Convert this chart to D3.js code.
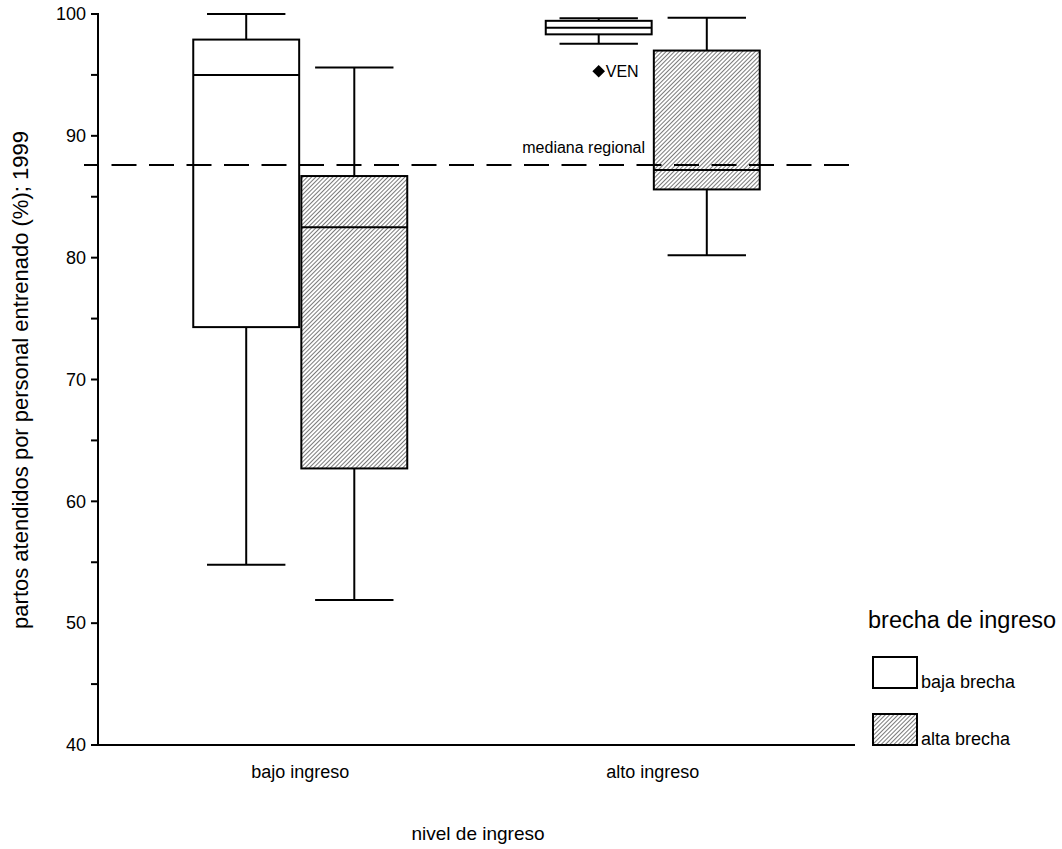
<!DOCTYPE html>
<html>
<head>
<meta charset="utf-8">
<script src="https://cdn.jsdelivr.net/npm/d3@7"></script>
<style>
  html, body { margin: 0; padding: 0; background: #fff; }
  svg { display: block; font-family: Arial, "Liberation Sans", sans-serif; }
</style>
</head>
<body>
<svg id="chart" width="1062" height="849"></svg>
<script>
// Income level groups and income-gap subgroups
const categories = ["bajo ingreso", "alto ingreso"];
const gaps = ["baja brecha", "alta brecha"];

// Box statistics per group: [whisker low, Q1, median, Q3, whisker high]
const bajoIngresoBaja = [54.8, 74.3, 95.0, 97.9, 100.0];
const bajoIngresoAlta = [51.9, 62.7, 82.5, 86.7, 95.6];
const altoIngresoBaja = [97.55, 98.33, 98.87, 99.44, 99.65];
const altoIngresoAlta = [80.2, 85.6, 87.2, 97.0, 99.7];

// Outlier
const outlierLabels = ["VEN"];
const outlierValues = [95.3];

// Regional median reference line
const regionalMedian = 87.6;

const yTicks = [40, 50, 60, 70, 80, 90, 100];
const yMinorTicks = [45, 55, 65, 75, 85, 95];

const boxes = [
  { cat: "bajo ingreso", gap: "baja brecha", s: bajoIngresoBaja },
  { cat: "bajo ingreso", gap: "alta brecha", s: bajoIngresoAlta },
  { cat: "alto ingreso", gap: "baja brecha", s: altoIngresoBaja },
  { cat: "alto ingreso", gap: "alta brecha", s: altoIngresoAlta }
];

const svg = d3.select("#chart");

const axisLeft = 98, axisRight = 855, axisBottom = 745;

const y = d3.scaleLinear().domain([40, 100]).range([axisBottom, 14]);
const x = d3.scaleBand().domain(categories).range([124, 829]);
const xg = d3.scaleBand().domain(gaps).range([-107, 107]).paddingInner(0.02);

// Hatch pattern for the high-gap boxes
const defs = svg.append("defs");
const pat = defs.append("pattern")
  .attr("id", "hatch")
  .attr("patternUnits", "userSpaceOnUse")
  .attr("width", 3).attr("height", 3)
  .attr("patternTransform", "rotate(45)");
pat.append("rect").attr("width", 3).attr("height", 3).attr("fill", "#fff");
pat.append("line")
  .attr("x1", 0.5).attr("y1", 0).attr("x2", 0.5).attr("y2", 3)
  .attr("stroke", "#7a7a7a").attr("stroke-width", 1);

const fillFor = g => g === "alta brecha" ? "url(#hatch)" : "#fff";

// Y axis
const yAxis = svg.append("g").attr("transform", `translate(${axisLeft},0)`);
yAxis.append("line")
  .attr("x1", 0).attr("x2", 0).attr("y1", y(100) - 1).attr("y2", axisBottom)
  .attr("stroke", "#000").attr("stroke-width", 2);
yAxis.selectAll(".major").data(yTicks.concat(yMinorTicks)).join("line")
  .attr("x1", -7).attr("x2", 0)
  .attr("y1", d => y(d)).attr("y2", d => y(d))
  .attr("stroke", "#000").attr("stroke-width", 2);
yAxis.selectAll("text").data(yTicks).join("text")
  .attr("x", -12).attr("y", d => y(d))
  .attr("dy", "0.35em")
  .attr("text-anchor", "end")
  .attr("font-size", 18)
  .text(d => d);

// X axis
svg.append("line")
  .attr("x1", axisLeft - 1).attr("x2", axisRight)
  .attr("y1", axisBottom).attr("y2", axisBottom)
  .attr("stroke", "#000").attr("stroke-width", 2);
svg.selectAll(".xlab").data(categories).join("text")
  .attr("x", d => x(d) + x.bandwidth() / 2)
  .attr("y", 778)
  .attr("text-anchor", "middle")
  .attr("font-size", 18)
  .text(d => d);

// Axis titles
svg.append("text")
  .attr("x", 478).attr("y", 840)
  .attr("text-anchor", "middle")
  .attr("font-size", 19)
  .text("nivel de ingreso");
svg.append("text")
  .attr("transform", `translate(28,380) rotate(-90)`)
  .attr("text-anchor", "middle")
  .attr("font-size", 22)
  .text("partos atendidos por personal entrenado (%); 1999");

// Boxes
const capRatio = 0.74;
const g = svg.append("g");
boxes.forEach(b => {
  const x0 = x(b.cat) + x.bandwidth() / 2 + xg(b.gap);
  const w = xg.bandwidth();
  const cx = x0 + w / 2;
  const cap = w * capRatio;
  const [lo, q1, med, q3, hi] = b.s;
  const grp = g.append("g");
  // whiskers
  grp.append("line").attr("x1", cx).attr("x2", cx).attr("y1", y(hi)).attr("y2", y(q3))
    .attr("stroke", "#000").attr("stroke-width", 2);
  grp.append("line").attr("x1", cx).attr("x2", cx).attr("y1", y(q1)).attr("y2", y(lo))
    .attr("stroke", "#000").attr("stroke-width", 2);
  grp.append("line").attr("x1", cx - cap / 2).attr("x2", cx + cap / 2).attr("y1", y(hi)).attr("y2", y(hi))
    .attr("stroke", "#000").attr("stroke-width", 2);
  grp.append("line").attr("x1", cx - cap / 2).attr("x2", cx + cap / 2).attr("y1", y(lo)).attr("y2", y(lo))
    .attr("stroke", "#000").attr("stroke-width", 2);
  // box
  grp.append("rect")
    .attr("x", x0).attr("y", y(q3))
    .attr("width", w).attr("height", y(q1) - y(q3))
    .attr("fill", fillFor(b.gap))
    .attr("stroke", "#000").attr("stroke-width", 2);
  // median
  grp.append("line").attr("x1", x0).attr("x2", x0 + w).attr("y1", y(med)).attr("y2", y(med))
    .attr("stroke", "#000").attr("stroke-width", 2);
});

// Regional median line
svg.append("line")
  .attr("x1", axisLeft - 14).attr("x2", axisRight)
  .attr("y1", y(regionalMedian)).attr("y2", y(regionalMedian))
  .attr("stroke", "#000").attr("stroke-width", 2)
  .attr("stroke-dasharray", "25,12.5")
  .attr("stroke-dashoffset", 10);
svg.append("text")
  .attr("x", 645).attr("y", y(regionalMedian) - 12)
  .attr("text-anchor", "end")
  .attr("font-size", 16)
  .text("mediana regional");

// Outlier
const outCx = x("alto ingreso") + x.bandwidth() / 2 + xg("baja brecha") + xg.bandwidth() / 2;
outlierValues.forEach((v, i) => {
  svg.append("path")
    .attr("d", d3.symbol().type(d3.symbolSquare).size(80)())
    .attr("transform", `translate(${outCx},${y(v)}) rotate(45)`)
    .attr("fill", "#000");
  svg.append("text")
    .attr("x", outCx + 7).attr("y", y(v))
    .attr("dy", "0.36em")
    .attr("font-size", 16)
    .text(outlierLabels[i]);
});

// Legend
const lg = svg.append("g");
lg.append("text")
  .attr("x", 868).attr("y", 628)
  .attr("font-size", 23.5)
  .text("brecha de ingreso");
gaps.forEach((gp, i) => {
  const top = 657 + i * 57;
  lg.append("rect")
    .attr("x", 873).attr("y", top)
    .attr("width", 44).attr("height", 31)
    .attr("fill", fillFor(gp))
    .attr("stroke", "#000").attr("stroke-width", 2);
  lg.append("text")
    .attr("x", 921).attr("y", top + 31)
    .attr("font-size", 18)
    .text(gp);
});
</script>
</body>
</html>
